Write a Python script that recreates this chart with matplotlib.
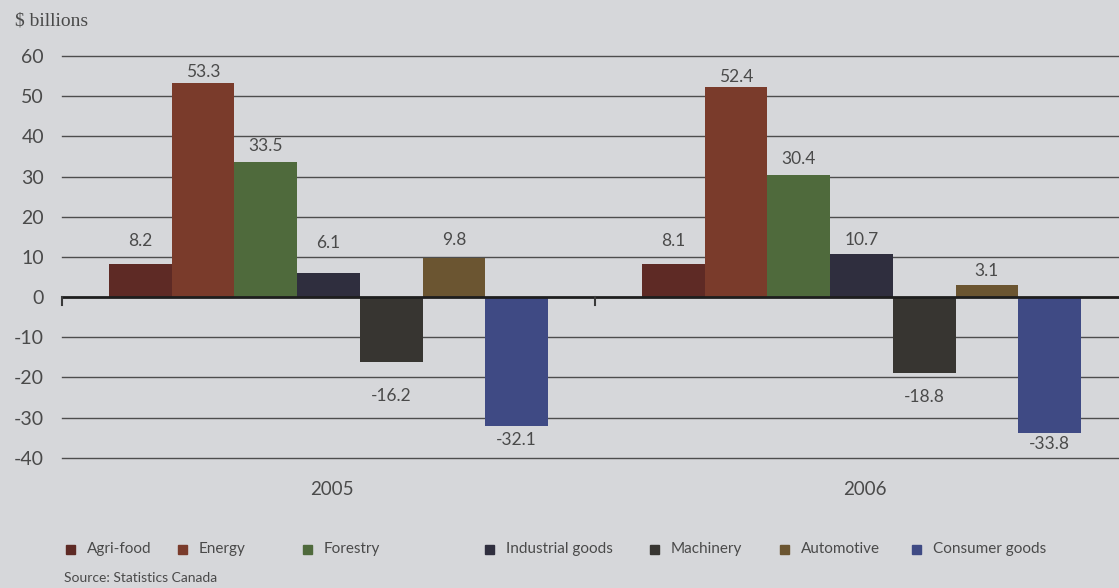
import numpy as np
import matplotlib.pyplot as plt
from matplotlib.patches import Rectangle

## Data

years = ['2005', '2006']
categories = ['Agri-food', 'Energy', 'Forestry', 'Industrial goods',
              'Machinery', 'Automotive', 'Consumer goods']
values_2005 = [8.2, 53.3, 33.5, 6.1, -16.2, 9.8, -32.1]
values_2006 = [8.1, 52.4, 30.4, 10.7, -18.8, 3.1, -33.8]

## Styling

colors = ['#5e2a25', '#7a3b2b', '#4f6a3c', '#2f2e3e', '#373531', '#6b5531', '#3f4a84']
bg = '#d6d7da'
txt = '#4a4a4a'
# label offsets in pixels (distance from bar end to label centre)
offsets = {
    '2005': [23, 11, 16, 30, 34, 18, 14],
    '2006': [23, 10, 16, 14, 24, 14, 11],
}
legend_x = [66, 178, 303, 485, 650, 780, 912]

plt.rcParams['font.family'] = ['Lato', 'DejaVu Sans']

W, H = 1119, 588
fig = plt.figure(figsize=(W / 100, H / 100), dpi=100, facecolor=bg)
ax = fig.add_axes([62 / W, (H - 457.7) / H, 1066 / W, 401.7 / H])
ax.set_facecolor(bg)

x = np.arange(len(years))
bw = 0.1176
n = len(categories)
data = [values_2005, values_2006]

for i, cat in enumerate(categories):
    vals = [d[i] for d in data]
    pos = x - bw * (n - 1) / 2 + i * bw
    ax.bar(pos, vals, width=bw, color=colors[i], zorder=3, label=cat)
    for j, (p, v) in enumerate(zip(pos, vals)):
        off = offsets[years[j]][i]
        ax.annotate(f'{v:g}', (p, v), xytext=(0, off if v > 0 else -off),
                    textcoords='offset pixels', ha='center', va='center',
                    fontsize=12.5, color=txt, zorder=4)

ax.set_xlim(-0.5, 1.5)
ax.set_ylim(-40, 60)
yt = np.arange(-40, 61, 10)
ax.set_yticks(yt)
ax.set_yticklabels([str(v) for v in yt], fontsize=14, color=txt)
ax.tick_params(axis='y', length=0, pad=13)
for y in yt:
    if y != 0:
        ax.axhline(y, color='#4d4d4d', lw=1.0, zorder=1, clip_on=False)
ax.axhline(0, color='#1e1e1e', lw=2, zorder=5)
for s in ax.spines.values():
    s.set_visible(False)

# category separator ticks on the zero line
ax.set_xticks([])
for xb in [-0.5, 0.5]:
    ax.plot([xb, xb], [0, -2], color='#3a3a3a', lw=1.5, zorder=5, clip_on=False)

for xi, yr in zip(x, years):
    ax.text(xi + 0.007, -48, yr, ha='center', va='center', fontsize=13.5, color=txt)

fig.text(15 / W, 1 - 21 / H, '$ billions', fontsize=14, color=txt,
         family='Liberation Serif', va='center', ha='left')

# legend
for lx, cat, c in zip(legend_x, categories, colors):
    fig.patches.append(Rectangle((lx / W, 1 - 554 / H), 9 / W, 9 / H,
                                 transform=fig.transFigure, color=c, figure=fig))
    fig.text((lx + 21) / W, 1 - 549 / H, cat, fontsize=11, color=txt,
             va='center', ha='left')

fig.text(64 / W, 1 - 578 / H, 'Source: Statistics Canada', fontsize=10,
         color=txt, va='center', ha='left')

fig.savefig('out.png', dpi=100, facecolor=bg)
